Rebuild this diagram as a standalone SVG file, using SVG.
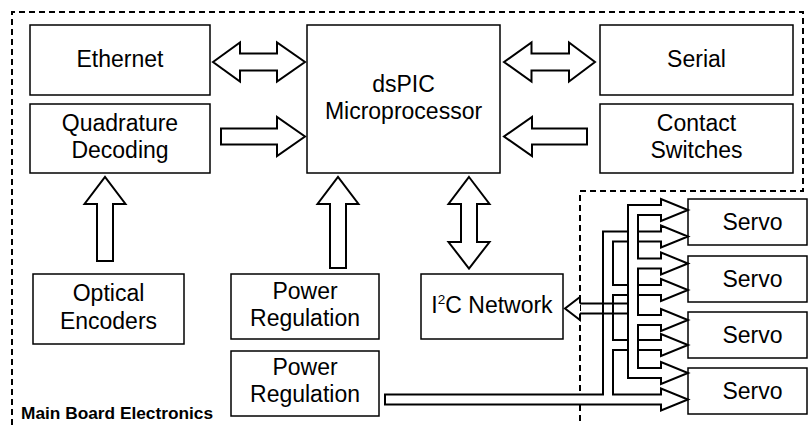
<svg xmlns="http://www.w3.org/2000/svg" width="808" height="425" viewBox="0 0 808 425">
<style>
.box{fill:#fff;stroke:#000;stroke-width:1.5}
.arr{fill:#fff;stroke:#000;stroke-width:2;stroke-linejoin:miter}
.ln{fill:none;stroke:#000;stroke-width:2}
.t{font-family:"Liberation Sans",Arial,sans-serif;font-size:23px;text-anchor:middle;fill:#000}
.b{font-family:"Liberation Sans",Arial,sans-serif;font-size:17.3px;font-weight:bold;fill:#000}
.dash{fill:none;stroke:#000;stroke-width:2;stroke-dasharray:6 4}
</style>
<rect width="808" height="425" fill="#fff"/>
<g id="border">
<path class="dash" d="M12,425 V12 H803 V191 H580 V425"/>
<text class="b" x="21" y="419">Main Board Electronics</text>
</g>
<g id="ethernet"><rect class="box" x="30" y="25" width="180" height="70"/><text class="t" x="120" y="67">Ethernet</text></g>
<g id="quadrature"><rect class="box" x="30" y="104" width="180" height="69"/><text class="t" x="120" y="131">Quadrature</text><text class="t" x="120" y="158">Decoding</text></g>
<g id="dspic"><rect class="box" x="307" y="25" width="193" height="148"/><text class="t" x="403.5" y="92">dsPIC</text><text class="t" x="403.5" y="119">Microprocessor</text></g>
<g id="serial"><rect class="box" x="600" y="25" width="193" height="70"/><text class="t" x="696.5" y="67">Serial</text></g>
<g id="contact"><rect class="box" x="600" y="104" width="193" height="69"/><text class="t" x="696.5" y="131">Contact</text><text class="t" x="696.5" y="158">Switches</text></g>
<g id="optical"><rect class="box" x="33" y="274" width="151" height="70"/><text class="t" x="108.5" y="301">Optical</text><text class="t" x="108.5" y="329">Encoders</text></g>
<g id="power1"><rect class="box" x="231" y="274" width="148" height="65"/><text class="t" x="305" y="299">Power</text><text class="t" x="305" y="326">Regulation</text></g>
<g id="power2"><rect class="box" x="231" y="351" width="148" height="65"/><text class="t" x="305" y="375">Power</text><text class="t" x="305" y="402">Regulation</text></g>
<g id="i2c"><rect class="box" x="421" y="274" width="142" height="65"/><text class="t" x="492" y="313">I<tspan font-size="13.5" dy="-9">2</tspan><tspan dy="9">C Network</tspan></text></g>
<g id="servo1"><rect class="box" x="688" y="199" width="119" height="46"/><text class="t" x="752.5" y="230">Servo</text></g>
<g id="servo2"><rect class="box" x="688" y="256" width="119" height="46"/><text class="t" x="752.5" y="287">Servo</text></g>
<g id="servo3"><rect class="box" x="688" y="312" width="119" height="46"/><text class="t" x="752.5" y="343">Servo</text></g>
<g id="servo4"><rect class="box" x="688" y="368" width="119" height="46"/><text class="t" x="752.5" y="399">Servo</text></g>
<g id="connectors">
<polygon class="arr" points="213,62 240,42.5 240,53.5 277,53.5 277,42.5 305,62 277,81.5 277,70.5 240,70.5 240,81.5"/>
<polygon class="arr" points="504,62 531.5,42.5 531.5,53.5 569,53.5 569,42.5 595,62 569,81.5 569,70.5 531.5,70.5 531.5,81.5"/>
<polygon class="arr" points="221,128.5 277,128.5 277,117 305,136.5 277,156 277,144.5 221,144.5"/>
<polygon class="arr" points="587,128.5 532,128.5 532,117 504,136.5 532,156 532,144.5 587,144.5"/>
<polygon class="arr" points="97,261 97,204 84.5,204 105,177 125.5,204 113,204 113,261"/>
<polygon class="arr" points="330,268 330,204 317.5,204 338,177 358.5,204 346,204 346,268"/>
<polygon class="arr" points="469,177 489.5,204 477,204 477,242 489.5,242 469,268.5 448.5,242 461,242 461,204 448.5,204"/>
<path class="arr" d="M385,394.5 H603 V231.5 H661 V225.5 L688,236.5 L661,247.5 V241.5 H613 V285 H661 V279 L688,290 L661,301 V295 H613 V340 H661 V334 L688,345 L661,356 V350 H613 V394.5 H661 V388.5 L688,399.5 L661,410.5 V404.5 H385 Z"/>
<path class="arr" d="M580,303.5 V297 L565,308.5 L580,320 V313.5"/>
<path class="ln" d="M580,303.5 H630 M580,313.5 H630"/>
<path class="arr" d="M628,205 H661 V199 L688,210 L661,221 V215 H638 V258.5 H661 V252.5 L688,263.5 L661,274.5 V268.5 H638 V315 H661 V309 L688,320 L661,331 V325 H638 V368 H661 V362 L688,373 L661,384 V378 H628 Z"/>
</g>
</svg>
